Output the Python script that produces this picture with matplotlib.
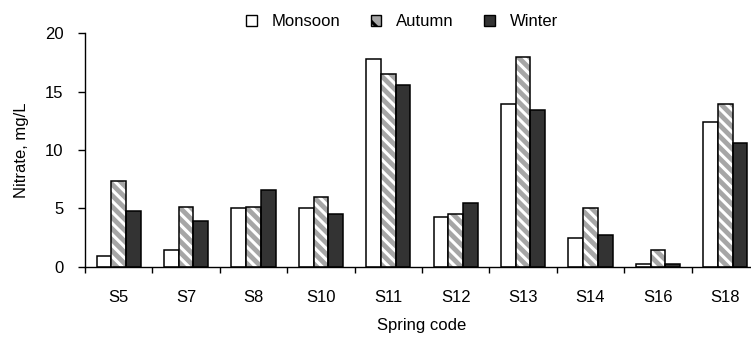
import numpy as np
import matplotlib
matplotlib.use("Agg")
import matplotlib.pyplot as plt
from matplotlib.patches import Patch

plt.rcParams['font.family'] = ['Liberation Sans', 'DejaVu Sans']
plt.rcParams['hatch.linewidth'] = 2.2
plt.rcParams['hatch.color'] = 'white'

springs = ['S5', 'S7', 'S8', 'S10', 'S11', 'S12', 'S13', 'S14', 'S16', 'S18']
monsoon = [0.9, 1.45, 5.05, 5.05, 17.8, 4.25, 13.95, 2.5, 0.25, 12.4]
autumn = [7.35, 5.15, 5.15, 5.95, 16.55, 4.55, 17.95, 5.05, 1.45, 13.95]
winter = [4.8, 3.9, 6.6, 4.55, 15.6, 5.45, 13.45, 2.7, 0.25, 10.6]

fs = 12

fig = plt.figure(figsize=(7.51, 3.45), dpi=100)
ax = fig.add_axes([85 / 751, (345 - 266.7) / 345, 674 / 751, 233.4 / 345])

x = np.arange(len(springs))
w = 0.218

ax.bar(x - w, monsoon, w, color='white', edgecolor='black', linewidth=1.1, zorder=2)
# autumn: grey fill with white diagonal stripes, black outline on top
ax.bar(x, autumn, w, color='#a6a6a6', edgecolor='white', hatch='\\\\\\', linewidth=0, zorder=2)
ax.bar(x, autumn, w, fill=False, edgecolor='black', linewidth=1.1, zorder=3)
ax.bar(x + w, winter, w, color='#333333', edgecolor='black', linewidth=1.1, zorder=2)

ax.set_xlim(-0.5, len(springs) - 0.5)
ax.set_ylim(0, 20)
ax.set_yticks([0, 5, 10, 15, 20])
ax.set_xticks(x)
ax.set_xticklabels(springs)
ax.set_xticks(np.arange(len(springs) + 1) - 0.5, minor=True)
ax.tick_params(axis='x', which='major', length=0, pad=17, labelsize=fs)
ax.tick_params(axis='x', which='minor', length=4.5, width=1, direction='out')
ax.tick_params(axis='y', length=5, width=1, direction='out', labelsize=fs, pad=10.5)

for s in ['top', 'right']:
    ax.spines[s].set_visible(False)
for s in ['left', 'bottom']:
    ax.spines[s].set_linewidth(1)

ax.set_ylabel('Nitrate, mg/L', fontsize=fs, labelpad=11.5)
ax.set_xlabel('Spring code', fontsize=fs, labelpad=9)

handles = [
    Patch(facecolor='white', edgecolor='black', linewidth=1),
    Patch(facecolor='#a6a6a6', edgecolor='black', linewidth=1, hatch='\\\\'),
    Patch(facecolor='#333333', edgecolor='black', linewidth=1),
]
fig.legend(handles, ['Monsoon', 'Autumn', 'Winter'], loc='center',
           bbox_to_anchor=(402 / 751, 1 - 22 / 345), ncol=3, frameon=False,
           fontsize=fs, handlelength=0.65, handleheight=0.65, handletextpad=0.9,
           columnspacing=1.8)

fig.savefig('out.png', dpi=100)
